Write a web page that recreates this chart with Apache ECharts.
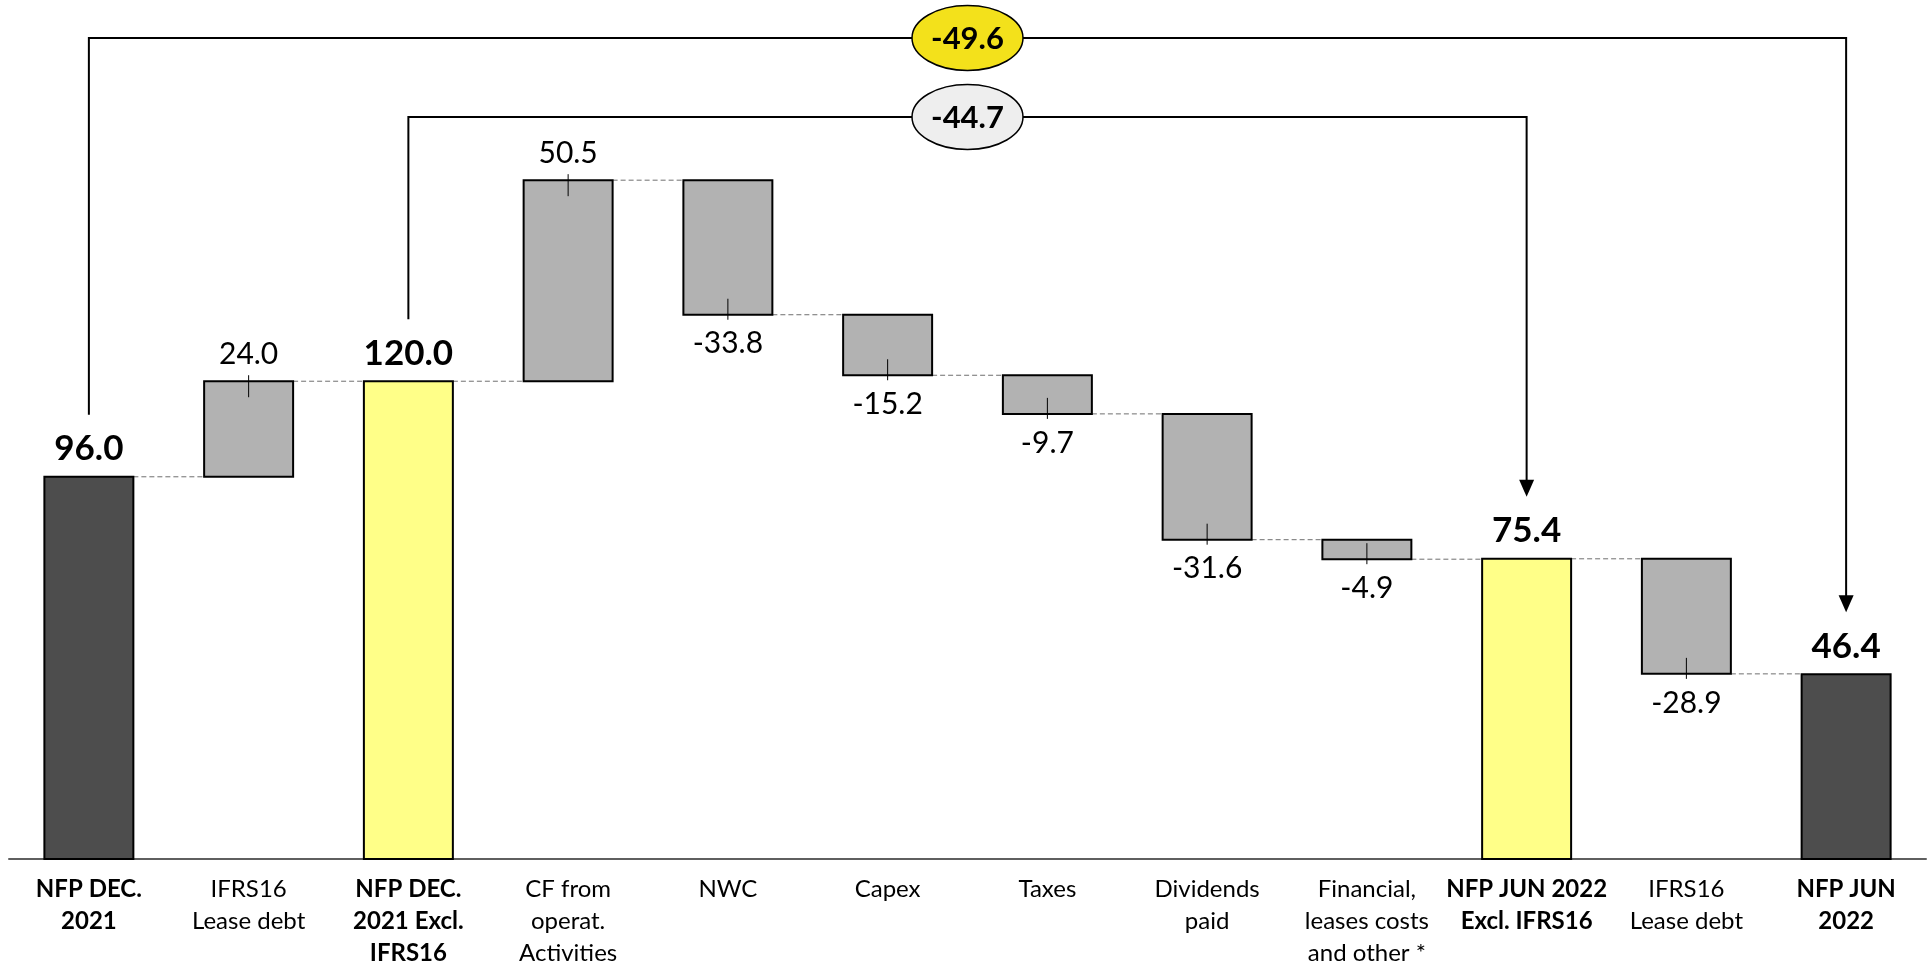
<!DOCTYPE html>
<html>
<head>
<meta charset="utf-8">
<title>Net financial position bridge</title>
<script src="https://cdn.jsdelivr.net/npm/echarts@6/dist/echarts.min.js"></script>
<style>
  html, body { margin: 0; padding: 0; background: #ffffff; overflow: hidden; }
  #chart { width: 100vw; height: 100vh; }
</style>
</head>
<body>
<div id="chart"></div>
<script>
// Bridge categories (x axis) and their values
const categories = [
  'NFP DEC.\n2021',
  'IFRS16\nLease debt',
  'NFP DEC.\n2021 Excl.\nIFRS16',
  'CF from\noperat.\nActivities',
  'NWC',
  'Capex',
  'Taxes',
  'Dividends\npaid',
  'Financial,\nleases costs\nand other *',
  'NFP JUN 2022\nExcl. IFRS16',
  'IFRS16\nLease debt',
  'NFP JUN\n2022'
];
const values = [96.0, 24.0, 120.0, 50.5, -33.8, -15.2, -9.7, -31.6, -4.9, 75.4, -28.9, 46.4];
// 'total' / 'subtotal' bars start at zero, 'delta' bars float on the running level
const kinds = ['total', 'delta', 'subtotal', 'delta', 'delta', 'delta', 'delta', 'delta', 'delta', 'subtotal', 'delta', 'total'];

// Period-over-period change callouts: from bar, to bar, change shown in the ellipse
const bracketFrom = [0, 2];
const bracketTo = [11, 9];
const bracketDelta = [-49.6, -44.7];

// Derived low / high extent of each bar and the running level after it
const lows = [], highs = [], levels = [];
(function () {
  let running = 0;
  values.forEach(function (v, i) {
    if (kinds[i] === 'delta') {
      lows.push(Math.min(running, running + v));
      highs.push(Math.max(running, running + v));
      running += v;
    } else {
      lows.push(0);
      highs.push(v);
      running = v;
    }
    levels.push(running);
  });
})();

const FONT = 'Lato, "Open Sans", sans-serif';
const FILL = { total: '#4d4d4d', subtotal: '#ffff88', delta: '#b2b2b2' };
const BRACKET_Y = [38, 117];          // pixel height of the callout rails
const BRACKET_FILL = ['#f3e11b', '#eeeeee'];

const chart = echarts.init(document.getElementById('chart'), null, { renderer: 'canvas' });

function renderBar(params, api) {
  const i = api.value(0);
  const kind = kinds[i];
  const band = api.size([1, 0])[0];
  const w = band * 0.557;
  const pTop = api.coord([i, highs[i]]);
  const pBot = api.coord([i, lows[i]]);
  const cx = pTop[0];
  const children = [];

  // dashed connector to the next bar at the running level
  if (i < categories.length - 1) {
    const y = api.coord([i, levels[i]])[1];
    children.push({
      type: 'line',
      shape: { x1: cx + w / 2, y1: y, x2: cx + band - w / 2, y2: y },
      style: { stroke: '#6f6f6f', lineWidth: 1, lineDash: [5, 3] }
    });
  }

  children.push({
    type: 'rect',
    shape: { x: cx - w / 2, y: pTop[1], width: w, height: pBot[1] - pTop[1] },
    style: { fill: FILL[kind], stroke: '#000000', lineWidth: 2 }
  });

  const txt = values[i].toFixed(1);
  if (kind === 'delta') {
    const up = values[i] >= 0;
    // small marker at the bar edge where the label sits
    children.push({
      type: 'line',
      shape: up
        ? { x1: cx, y1: pTop[1] - 6, x2: cx, y2: pTop[1] + 16 }
        : { x1: cx, y1: pBot[1] - 16, x2: cx, y2: pBot[1] + 5 },
      style: { stroke: '#000000', lineWidth: 1 }
    });
    children.push({
      type: 'text',
      x: cx,
      y: up ? pTop[1] - 27 : pBot[1] + 29,
      style: {
        text: txt, fill: '#000000', fontFamily: FONT, fontSize: 30,
        align: 'center', verticalAlign: 'middle'
      }
    });
  } else {
    children.push({
      type: 'text',
      x: cx,
      y: pTop[1] - 28,
      style: {
        text: txt, fill: '#000000', fontFamily: FONT, fontSize: 35, fontWeight: 'bold',
        align: 'center', verticalAlign: 'middle'
      }
    });
  }
  return { type: 'group', children: children };
}

function renderBracket(params, api) {
  const k = params.dataIndex;
  const a = api.value(0), b = api.value(1);
  const x1 = api.coord([a, highs[a]])[0];
  const endL = api.coord([a, highs[a]])[1] - 62;
  const x2 = api.coord([b, highs[b]])[0];
  const tip = api.coord([b, highs[b]])[1] - 62;
  const yl = BRACKET_Y[k];
  const ah = 17, aw = 7.5;
  const mx = (x1 + x2) / 2;
  const rx = 55.5, ry = 32.5;
  return {
    type: 'group',
    children: [
      {
        type: 'polyline',
        shape: { points: [[x1, endL], [x1, yl], [x2, yl], [x2, tip - ah + 1]] },
        style: { stroke: '#000000', lineWidth: 2, fill: null }
      },
      {
        type: 'polygon',
        shape: { points: [[x2 - aw, tip - ah], [x2 + aw, tip - ah], [x2, tip]] },
        style: { fill: '#000000' }
      },
      {
        type: 'path',
        shape: {
          pathData: 'M' + (mx - rx) + ',' + yl +
            ' A' + rx + ',' + ry + ' 0 1,0 ' + (mx + rx) + ',' + yl +
            ' A' + rx + ',' + ry + ' 0 1,0 ' + (mx - rx) + ',' + yl + ' Z'
        },
        style: { fill: BRACKET_FILL[k], stroke: '#000000', lineWidth: 1.5 }
      },
      {
        type: 'text',
        x: mx,
        y: yl + 1,
        style: {
          text: api.value(2).toFixed(1), fill: '#000000', fontFamily: FONT,
          fontSize: 31, fontWeight: 'bold', align: 'center', verticalAlign: 'middle'
        }
      }
    ]
  };
}

const option = {
  backgroundColor: '#ffffff',
  animation: false,
  grid: { left: 9, right: 3, top: 3, bottom: 104, containLabel: false },
  xAxis: {
    type: 'category',
    data: categories,
    axisLine: { show: true, lineStyle: { color: '#5f5f5f', width: 2 } },
    axisTick: { show: false },
    axisLabel: {
      interval: 0,
      margin: 14,
      color: '#000000',
      fontFamily: FONT,
      fontSize: 24,
      lineHeight: 32,
      formatter: function (value, index) {
        if (kinds[index] === 'delta') return value;
        return value.split('\n').map(function (l) { return '{b|' + l + '}'; }).join('\n');
      },
      rich: {
        b: { fontWeight: 'bold', fontFamily: FONT, fontSize: 24, lineHeight: 32, color: '#000000' }
      }
    }
  },
  yAxis: {
    type: 'value',
    min: 0,
    max: 215,
    show: false,
    splitLine: { show: false }
  },
  series: [
    {
      type: 'custom',
      clip: false,
      renderItem: renderBar,
      encode: { x: 0, y: [1, 2] },
      data: categories.map(function (c, i) { return [i, lows[i], highs[i]]; }),
      z: 2
    },
    {
      type: 'custom',
      clip: false,
      renderItem: renderBracket,
      encode: { x: [0, 1] },
      data: bracketFrom.map(function (f, k) { return [f, bracketTo[k], bracketDelta[k]]; }),
      z: 3
    }
  ]
};

chart.setOption(option);
window.addEventListener('resize', function () { chart.resize(); });
</script>
</body>
</html>
